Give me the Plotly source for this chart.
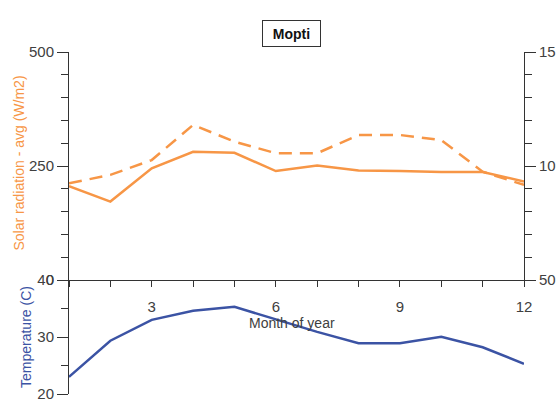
import plotly.graph_objects as go

# Monthly climate values for Mopti
months = list(range(1, 13))
solar_avg = [206, 172, 245, 281, 279, 239, 251, 240, 239, 237, 237, 216]        # W/m2, left axis
solar_dashed = [9.24, 9.61, 10.26, 11.80, 11.07, 10.56, 10.56, 11.36, 11.36, 11.14, 9.75, 9.17]  # right axis
temperature = [23.0, 29.35, 33.0, 34.6, 35.3, 33.1, 30.9, 28.9, 28.9, 30.05, 28.2, 25.3]  # deg C

ORANGE = "#F79646"
BLUE = "#3B53A4"
AXIS = "#333333"
TEXT = "#404040"
FONT = "Liberation Sans, Arial, sans-serif"

L, R, T, B = 69, 34, 52, 11
W, H = 558, 405
PW, PH = W - L - R, H - T - B


def px(x):
    return (x - L) / PW


def py(y):
    return (H - B - y) / PH


fig = go.Figure()

fig.add_trace(go.Scatter(x=months, y=solar_avg, mode="lines", xaxis="x", yaxis="y",
                         line=dict(color=ORANGE, width=2.5), showlegend=False))
fig.add_trace(go.Scatter(x=months, y=solar_dashed, mode="lines", xaxis="x", yaxis="y2",
                         line=dict(color=ORANGE, width=2.5, dash="13px,8px"), showlegend=False))
fig.add_trace(go.Scatter(x=months, y=temperature, mode="lines", xaxis="x2", yaxis="y3",
                         line=dict(color=BLUE, width=2.5), showlegend=False))

tickfont = dict(family=FONT, size=15, color=TEXT)
split = py(280)

fig.update_layout(
    width=W, height=H,
    margin=dict(l=L, r=R, t=T, b=B),
    paper_bgcolor="white", plot_bgcolor="white",
    font=dict(family=FONT, color=TEXT),
    xaxis=dict(domain=[0, 1], anchor="y", range=[1, 12], tickmode="linear", tick0=0, dtick=3,
               ticks="outside", ticklen=6, tickcolor=AXIS, showline=True, linecolor=AXIS,
               linewidth=1, showgrid=False, zeroline=False, tickfont=tickfont, automargin=False,
               ticklabelstandoff=7,
               minor=dict(dtick=1, tick0=0, ticks="outside", ticklen=6, tickcolor=AXIS)),
    xaxis2=dict(domain=[0, 1], anchor="y3", matches="x", visible=False, range=[1, 12],
                automargin=False),
    yaxis=dict(domain=[split, 1], anchor="x", range=[0, 500], tickmode="linear", tick0=0,
               dtick=250, ticks="outside", ticklen=11, tickcolor=AXIS, showline=True,
               linecolor=AXIS, linewidth=1, showgrid=False, zeroline=False, tickfont=tickfont,
               automargin=False,
               minor=dict(dtick=50, tick0=0, ticks="outside", ticklen=7, tickcolor=AXIS)),
    yaxis2=dict(domain=[split, 1], anchor="x", overlaying="y", side="right", range=[5, 15],
                tickmode="linear", tick0=5, dtick=5, labelalias={"5": "50"},
                ticks="outside", ticklen=11, tickcolor=AXIS, showline=True, linecolor=AXIS,
                linewidth=1, showgrid=False, zeroline=False, tickfont=tickfont, automargin=False,
                minor=dict(dtick=1, tick0=5, ticks="outside", ticklen=7, tickcolor=AXIS)),
    yaxis3=dict(domain=[0, split], anchor="x2", range=[20, 40], tickmode="linear", tick0=20,
                dtick=10, ticks="outside", ticklen=11, tickcolor=AXIS, showline=True,
                linecolor=AXIS, linewidth=1, showgrid=False, zeroline=False, tickfont=tickfont,
                automargin=False,
                minor=dict(dtick=5, tick0=20, ticks="outside", ticklen=7, tickcolor=AXIS)),
    annotations=[
        dict(text="<b>Mopti</b>", xref="paper", yref="paper", x=px(291.5), y=py(33.5),
             xanchor="center", yanchor="middle", showarrow=False, width=55, height=23,
             font=dict(family=FONT, size=14, color="#111111"),
             bordercolor="#333333", borderwidth=1, borderpad=1, bgcolor="white"),
        dict(text="Solar radiation - avg (W/m2)", xref="paper", yref="paper",
             x=px(18.5), y=py(163), xanchor="center", yanchor="middle", textangle=-90,
             showarrow=False, font=dict(family=FONT, size=14, color=ORANGE)),
        dict(text="Temperature (C)", xref="paper", yref="paper",
             x=px(26), y=py(337), xanchor="center", yanchor="middle", textangle=-90,
             showarrow=False, font=dict(family=FONT, size=14, color=BLUE)),
        dict(text="Month of year", xref="paper", yref="paper",
             x=px(292), y=py(323), xanchor="center", yanchor="middle",
             showarrow=False, font=dict(family=FONT, size=14, color=TEXT)),
    ],
)

fig.write_html("out.html")
